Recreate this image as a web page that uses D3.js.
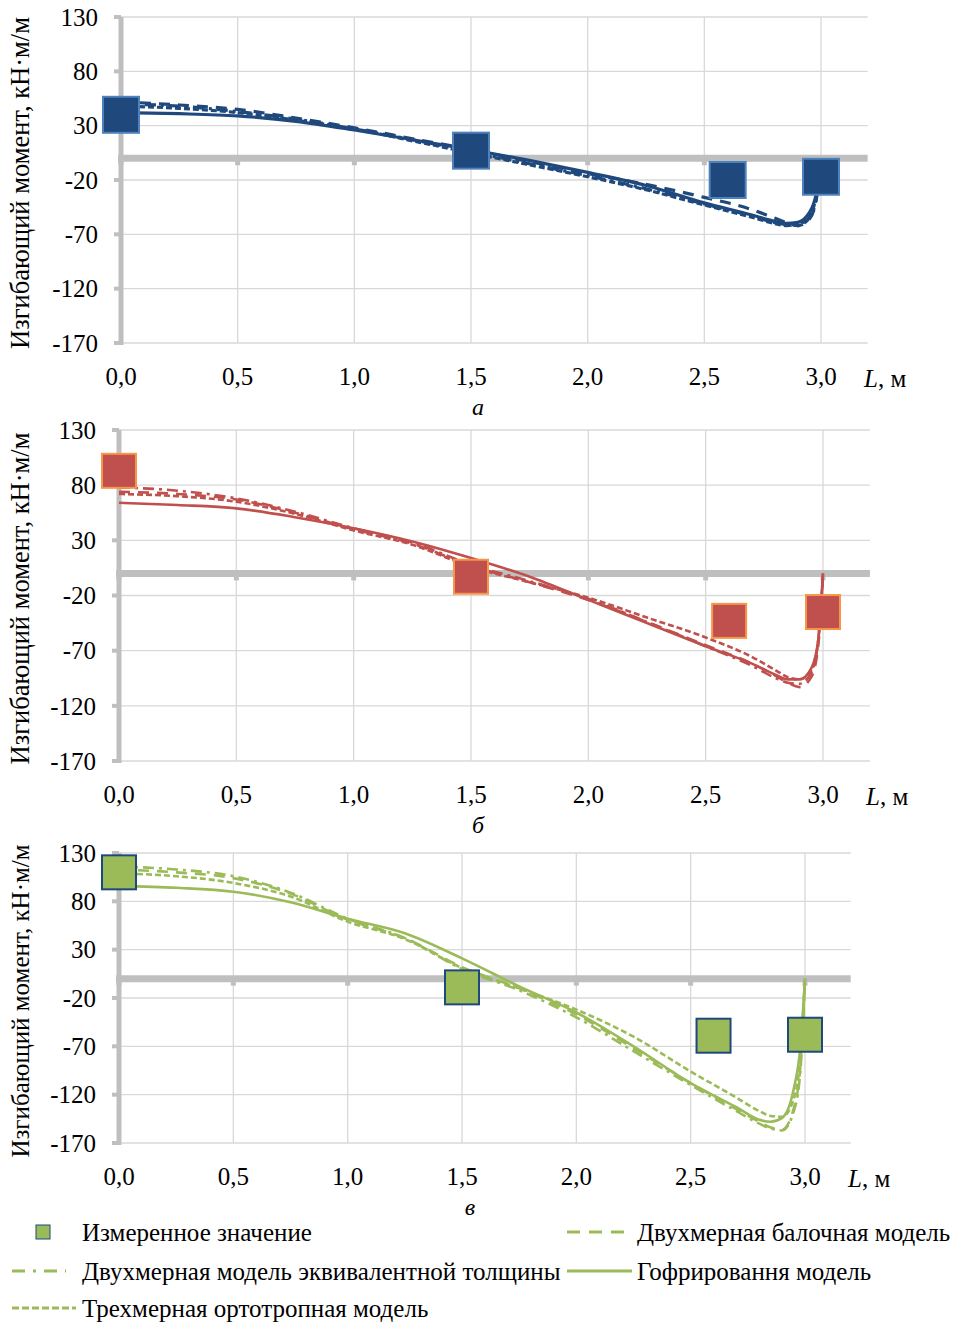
<!DOCTYPE html>
<html>
<head>
<meta charset="utf-8">
<script src="https://cdn.jsdelivr.net/npm/d3@7"></script>
<style>
  body { margin: 0; background: #fff; }
  svg text { font-family: "Liberation Serif", "Times New Roman", serif; fill: #000; }
</style>
</head>
<body>
<div id="chart"></div>
<script>
// Section positions along the beam, m
const L = [0, 0.25, 0.5, 0.75, 1.0, 1.25, 1.5, 1.75, 2.0, 2.25, 2.5, 2.7, 2.8, 2.85, 2.9, 2.95, 2.98, 3.0];

// Measured values (x, moment)
const measuredX = [0, 1.5, 2.6, 3.0];
const measuredA = [40, 7, -20, -17];
const measuredB = [93, -3, -43, -35];
const measuredC = [110, -9, -59, -58];

// Panel а
const beamA    = [52, 49, 45, 37, 28, 18, 8, -3, -14, -24, -36, -47, -55, -59, -62, -56, -38, 0];
const equivA   = [50, 48, 43, 36, 27, 17, 6, -5, -16, -28, -42, -53, -59, -61, -62, -55, -36, 0];
const corrA    = [42, 41, 39, 34, 26, 17, 8, -2, -13, -25, -41, -52, -58, -60, -59, -50, -32, 0];
const orthoA   = [48, 46, 42, 35, 27, 16, 5, -6, -17, -29, -43, -54, -60, -62, -61, -53, -34, 0];

// Panel б
const beamB    = [74, 72, 67, 55, 40, 27, 7, -8, -24, -44, -65, -82, -93, -99, -103, -94, -65, 0];
const equivB   = [78, 75, 68, 56, 41, 28, 8, -7, -23, -44, -66, -84, -95, -99, -100, -90, -60, 0];
const corrB    = [64, 62, 59, 51, 41, 29, 14, -3, -24, -45, -66, -82, -92, -96, -96, -86, -60, 0];
const orthoB   = [72, 70, 65, 54, 39, 26, 6, -8, -22, -40, -58, -76, -88, -94, -96, -88, -60, 0];

// Panel в
const beamC    = [113, 110, 104, 88, 61, 42, 12, -10, -37, -72, -108, -135, -148, -154, -156, -135, -90, 0];
const equivC   = [116, 113, 106, 89, 62, 42, 10, -12, -40, -75, -110, -137, -150, -155, -157, -138, -95, 0];
const corrC    = [96, 94, 90, 79, 62, 47, 21, -8, -35, -70, -108, -133, -146, -148, -144, -115, -70, 0];
const orthoC   = [109, 106, 99, 85, 59, 41, 11, -10, -32, -60, -96, -123, -137, -142, -143, -125, -80, 0];

const yTicks = [130, 80, 30, -20, -70, -120, -170];
const xTicks = [0, 0.5, 1.0, 1.5, 2.0, 2.5, 3.0];
const fmtX = d => d3.format(".1f")(d).replace(".", ",");

const yTitle = "Изгибающий момент, кН·м/м";
const seriesNames = ["Двухмерная балочная модель", "Двухмерная модель эквивалентной толщины",
                     "Гофрировання модель", "Трехмерная ортотропная модель"];
const dashes = ["11,8", "11,5,3,5", null, "6,3"];

const width = 960, height = 1324;
const svg = d3.select("#chart").append("svg")
    .attr("width", width)
    .attr("height", height);

const panels = [
    {top: 17, bottom: 343, left: 121, x3: 821, color: "#1f497d", edge: "#4f81bd", mark: 36, sw: 3.2, tf: 26.5,
     lines: [beamA, equivA, corrA, orthoA], meas: measuredA, letter: "а", letterX: 478},
    {top: 430, bottom: 761, left: 119, x3: 823, color: "#c0504d", edge: "#f79646", mark: 34, sw: 2.6, tf: 26.5,
     lines: [beamB, equivB, corrB, orthoB], meas: measuredB, letter: "б", letterX: 478},
    {top: 853, bottom: 1143, left: 119, x3: 805, color: "#9bbb59", edge: "#1f497d", mark: 34, sw: 2.6, tf: 25,
     lines: [beamC, equivC, corrC, orthoC], meas: measuredC, letter: "в", letterX: 470}
];

panels.forEach(function(p) {
    const x = d3.scaleLinear()
        .domain([0, 3])
        .range([p.left, p.x3]);
    const right = x(3.2);
    const y = d3.scaleLinear()
        .domain([-170, 130])
        .range([p.bottom, p.top]);

    const g = svg.append("g");

    // grid
    g.selectAll(".hgrid").data(yTicks).join("line")
        .attr("x1", p.left).attr("x2", right)
        .attr("y1", d => y(d)).attr("y2", d => y(d))
        .attr("stroke", "#d9d9d9").attr("stroke-width", 1.3);
    g.selectAll(".vgrid").data(xTicks).join("line")
        .attr("x1", d => x(d)).attr("x2", d => x(d))
        .attr("y1", p.top).attr("y2", p.bottom)
        .attr("stroke", "#d9d9d9").attr("stroke-width", 1.3);

    // y axis (thick gray) with ticks to the left
    g.append("line")
        .attr("x1", x(0)).attr("x2", x(0))
        .attr("y1", p.top).attr("y2", p.bottom + 2)
        .attr("stroke", "#bfbfbf").attr("stroke-width", 5);
    g.selectAll(".ytick").data(yTicks).join("line")
        .attr("x1", x(0) - 7).attr("x2", x(0))
        .attr("y1", d => y(d)).attr("y2", d => y(d))
        .attr("stroke", "#bfbfbf").attr("stroke-width", 4);

    // zero line with ticks below
    g.append("line")
        .attr("x1", x(0) - 3).attr("x2", right)
        .attr("y1", y(0)).attr("y2", y(0))
        .attr("stroke", "#bfbfbf").attr("stroke-width", 7);
    g.selectAll(".xtick").data(xTicks).join("line")
        .attr("x1", d => x(d)).attr("x2", d => x(d))
        .attr("y1", y(0)).attr("y2", y(0) + 7)
        .attr("stroke", "#bfbfbf").attr("stroke-width", 5);

    // tick labels
    g.selectAll(".ylab").data(yTicks).join("text")
        .attr("x", x(0) - 23)
        .attr("y", d => y(d))
        .attr("dy", "0.35em")
        .attr("text-anchor", "end")
        .attr("font-size", 25)
        .text(d => d);
    g.selectAll(".xlab").data(xTicks).join("text")
        .attr("x", d => x(d))
        .attr("y", p.bottom + 33)
        .attr("dy", "0.35em")
        .attr("text-anchor", "middle")
        .attr("font-size", 25)
        .text(fmtX);

    const lab = g.append("text")
        .attr("x", x(3) + 43)
        .attr("y", p.bottom + 35)
        .attr("dy", "0.35em")
        .attr("font-size", 25);
    lab.append("tspan").attr("font-style", "italic").text("L");
    lab.append("tspan").text(", м");

    g.append("text")
        .attr("x", p.letterX)
        .attr("y", p.bottom + 64)
        .attr("dy", "0.35em")
        .attr("text-anchor", "middle")
        .attr("font-style", "italic")
        .attr("font-size", 24)
        .text(p.letter);

    g.append("text")
        .attr("transform", `translate(20,${(p.top + p.bottom) / 2 + 3}) rotate(-90)`)
        .attr("dy", "0.35em")
        .attr("text-anchor", "middle")
        .attr("font-size", p.tf)
        .text(yTitle);

    // model lines
    const line = d3.line()
        .x((d, i) => x(L[i]))
        .y(d => y(d))
        .curve(d3.curveMonotoneX);

    p.lines.forEach(function(vals, k) {
        g.append("path")
            .datum(vals)
            .attr("d", line)
            .attr("fill", "none")
            .attr("stroke", p.color)
            .attr("stroke-width", p.sw)
            .attr("stroke-dasharray", dashes[k]);
    });

    // measured values
    g.selectAll(".meas").data(p.meas).join("rect")
        .attr("x", (d, i) => x(measuredX[i]) - p.mark / 2)
        .attr("y", d => y(d) - p.mark / 2)
        .attr("width", p.mark)
        .attr("height", p.mark)
        .attr("fill", p.color)
        .attr("stroke", p.edge)
        .attr("stroke-width", 2);
});

// legend
const green = "#9bbb59";
const leg = svg.append("g").attr("font-size", 25);

leg.append("rect")
    .attr("x", 36).attr("y", 1225).attr("width", 14).attr("height", 14)
    .attr("fill", green).attr("stroke", "#1f497d").attr("stroke-width", 1);
leg.append("text").attr("x", 82).attr("y", 1232).attr("dy", "0.35em").text("Измеренное значение");

const legItems = [
    {x1: 567, x2: 630, y: 1232, tx: 637, k: 0},
    {x1: 12, x2: 66, y: 1271, tx: 82, k: 1},
    {x1: 567, x2: 632, y: 1271, tx: 637, k: 2},
    {x1: 12, x2: 76, y: 1308, tx: 82, k: 3}
];
legItems.forEach(function(d) {
    leg.append("line")
        .attr("x1", d.x1).attr("x2", d.x2)
        .attr("y1", d.y).attr("y2", d.y)
        .attr("stroke", green).attr("stroke-width", 3)
        .attr("stroke-dasharray", d.k === 0 ? "13,9" : d.k === 1 ? "13,8,3,8" : d.k === 3 ? "7,3" : null);
    leg.append("text").attr("x", d.tx).attr("y", d.y).attr("dy", "0.35em").text(seriesNames[d.k]);
});
</script>
</body>
</html>
